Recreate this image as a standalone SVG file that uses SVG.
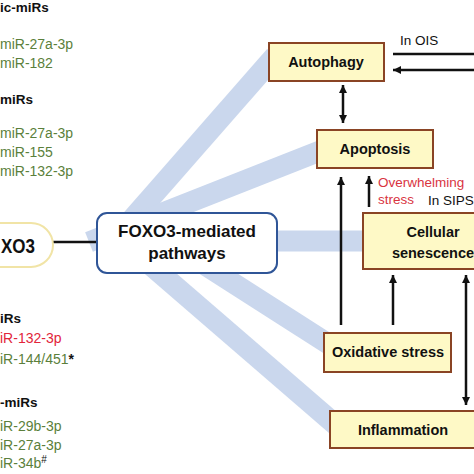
<svg xmlns="http://www.w3.org/2000/svg" width="474" height="474" viewBox="0 0 474 474">
<style>
  .t{font-family:"Liberation Sans",Arial,sans-serif}
  .b{font-weight:bold}
  .hd{font-family:"Liberation Sans",Arial,sans-serif;font-weight:bold;font-size:13.5px;fill:#111}
  .g{font-family:"Liberation Sans",Arial,sans-serif;font-size:14px;fill:#5b7f3b}
  .r{fill:#e2253a}
  .k{fill:#111}
  .box{fill:#fef9c6;stroke:#8a4424;stroke-width:2}
  .lbl{font-family:"Liberation Sans",Arial,sans-serif;font-weight:bold;font-size:14.5px;fill:#111;text-anchor:middle}
  .band{stroke:#cad7ed;stroke-width:21;fill:none}
  .arr{stroke:#111;stroke-width:2.5;fill:none}
  .note{font-family:"Liberation Sans",Arial,sans-serif;font-size:13.5px}
</style>
<defs>
  <marker id="ah" viewBox="0 0 10 10" refX="10" refY="5" markerWidth="9" markerHeight="8" markerUnits="userSpaceOnUse" orient="auto-start-reverse">
    <path d="M0,0 L10,5 L0,10 z" fill="#111"/>
  </marker>
</defs>
<rect width="474" height="474" fill="#fff"/>

<g id="bands">
  <line class="band" x1="112" y1="242" x2="275" y2="56"/>
  <line class="band" x1="89" y1="242" x2="325" y2="149"/>
  <line class="band" x1="200" y1="241" x2="370" y2="241"/>
  <line class="band" x1="169" y1="242" x2="330" y2="345"/>
  <line class="band" x1="124" y1="242" x2="337" y2="426"/>
</g>

<g id="mirs-top" class="t">
  <text class="hd" x="0" y="12">ic-miRs</text>
  <text class="g" x="0" y="49">miR-27a-3p</text>
  <text class="g" x="0" y="68">miR-182</text>
</g>
<g id="mirs-mid" class="t">
  <text class="hd" x="0" y="104">miRs</text>
  <text class="g" x="0" y="138">miR-27a-3p</text>
  <text class="g" x="0" y="157">miR-155</text>
  <text class="g" x="0" y="176">miR-132-3p</text>
</g>
<g id="mirs-low" class="t">
  <text class="hd" x="0" y="323">iRs</text>
  <text class="g r" x="0" y="343">iR-132-3p</text>
  <text class="g" x="0" y="364">iR-144/451<tspan class="k b">*</tspan></text>
</g>
<g id="mirs-bottom" class="t">
  <text class="hd" x="0" y="407">-miRs</text>
  <text class="g" x="0" y="431">iR-29b-3p</text>
  <text class="g" x="0" y="450">iR-27a-3p</text>
  <text class="g" x="0" y="468">iR-34b<tspan class="k" font-size="10" dy="-5">#</tspan></text>
</g>

<g id="connectors">
  <line x1="53" y1="242" x2="97" y2="242" stroke="#111" stroke-width="2.5"/>
  <line class="arr" x1="393" y1="54" x2="474" y2="54"/>
  <line class="arr" x1="480" y1="70" x2="393" y2="70" marker-end="url(#ah)"/>
  <line class="arr" x1="343" y1="85" x2="343" y2="123" marker-start="url(#ah)" marker-end="url(#ah)"/>
  <line class="arr" x1="341" y1="325" x2="341" y2="177" marker-end="url(#ah)"/>
  <line class="arr" x1="369" y1="207" x2="369" y2="176" marker-end="url(#ah)"/>
  <line class="arr" x1="393" y1="325" x2="393" y2="275" marker-end="url(#ah)"/>
  <line class="arr" x1="466" y1="275" x2="466" y2="405" marker-start="url(#ah)" marker-end="url(#ah)"/>
</g>

<g id="foxo3">
  <rect x="-60" y="223" width="113" height="44" rx="22" fill="#fff" stroke="#f1e4a6" stroke-width="2"/>
  <text class="t b" x="1" y="253" font-size="21" textLength="34" lengthAdjust="spacingAndGlyphs" fill="#111">XO3</text>
</g>

<g id="foxo3-pathways">
  <rect x="97" y="213" width="180" height="60" rx="10" fill="#fff" stroke="#2f5597" stroke-width="2"/>
  <text class="t b" x="187" y="237" font-size="17" text-anchor="middle" fill="#111">FOXO3-mediated</text>
  <text class="t b" x="187" y="259" font-size="17" text-anchor="middle" fill="#111">pathways</text>
</g>

<g id="autophagy">
  <rect class="box" x="269" y="43" width="115" height="38"/>
  <text class="lbl" x="326" y="67">Autophagy</text>
</g>
<g id="apoptosis">
  <rect class="box" x="317" y="130" width="116" height="38"/>
  <text class="lbl" x="375" y="154">Apoptosis</text>
</g>
<g id="senescence">
  <rect class="box" x="363" y="213" width="150" height="56"/>
  <text class="lbl" x="433" y="237" font-size="14">Cellular</text>
  <text class="lbl" x="433" y="258" font-size="14">senescence</text>
</g>
<g id="oxidative">
  <rect class="box" x="324" y="333" width="127" height="39"/>
  <text class="lbl" x="388" y="357">Oxidative stress</text>
</g>
<g id="inflammation">
  <rect class="box" x="330" y="411" width="150" height="37"/>
  <text class="lbl" x="403" y="435">Inflammation</text>
</g>

<g id="labels">
  <text class="note" x="400" y="45" fill="#111">In OIS</text>
  <text class="note" x="378" y="187" fill="#d9343f">Overwhelming</text>
  <text class="note" x="378" y="204" fill="#d9343f">stress</text>
  <text class="note" x="428" y="205" font-size="12" fill="#111">In SIPS</text>
</g>
</svg>
